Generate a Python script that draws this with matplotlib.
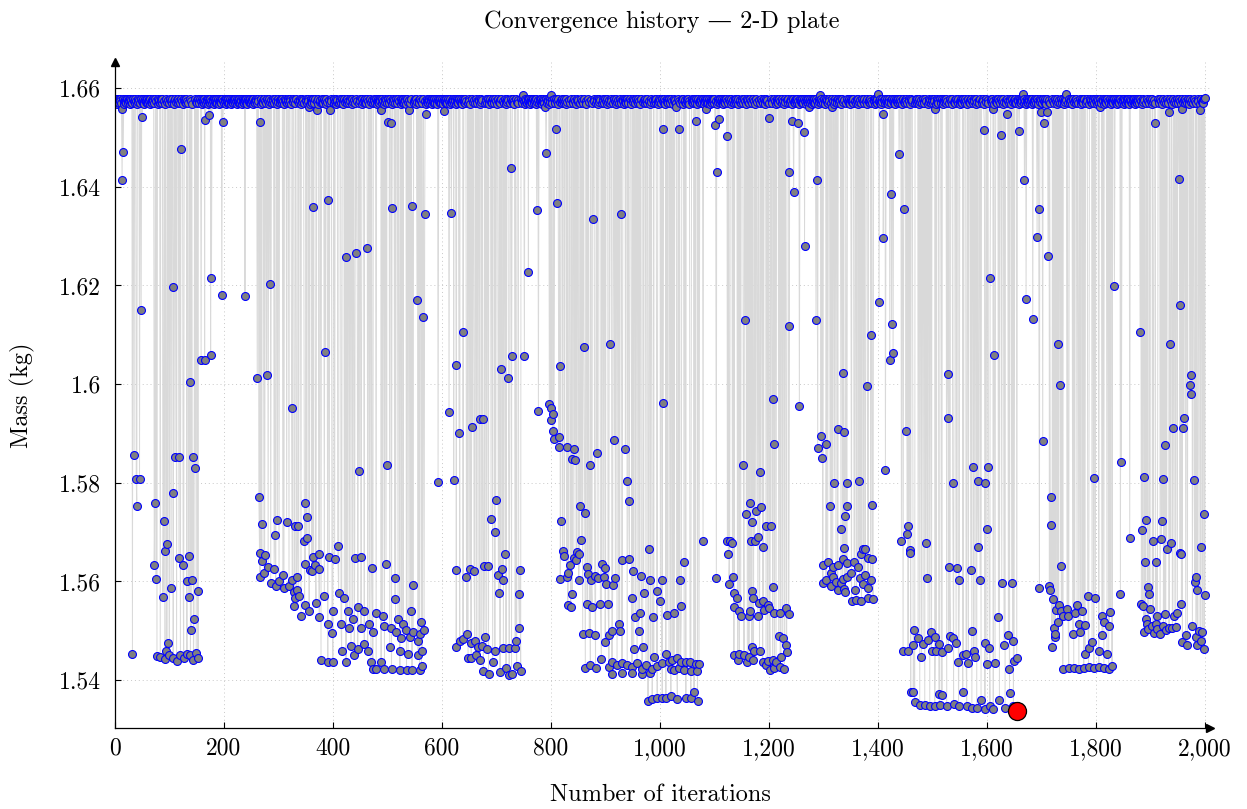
import numpy as np
import matplotlib
matplotlib.use("Agg")
import matplotlib.pyplot as plt

plt.rcParams['font.family'] = ['cmr10', 'DejaVu Serif']
plt.rcParams['axes.formatter.use_mathtext'] = True

# Low (non-top) designs as (iteration, mass in kg)
seg_a = [(12, 1.6557), (50, 1.6542), (15, 1.6470), (13, 1.6414), (122, 1.6476), (106, 1.6197), (48, 1.6151),
         (158, 1.6049), (138, 1.6005), (35, 1.5857), (39, 1.5808), (45, 1.5808), (40, 1.5752), (73, 1.5760),
         (89, 1.5723), (95, 1.5676), (91, 1.5662), (72, 1.5633), (75, 1.5605), (88, 1.5568), (103, 1.5587),
         (110, 1.5852), (117, 1.5852), (106.4, 1.5780), (143, 1.5852), (147, 1.5830), (117.4, 1.5647),
         (125, 1.5634), (135, 1.5651), (131.5, 1.5600), (142, 1.5602), (136, 1.5568), (152, 1.5581),
         (145, 1.5523), (140, 1.5501), (32, 1.5452), (97, 1.5475), (77, 1.5448), (83, 1.5446), (91.4, 1.5443),
         (94, 1.5460), (100, 1.5450), (106.8, 1.5444), (113, 1.5439), (120, 1.5450), (126, 1.5445),
         (132, 1.5454), (138.4, 1.5450), (144, 1.5441), (149, 1.5456), (152.4, 1.5444)]

seg_b = [(172.5, 1.6546), (166, 1.6536), (198, 1.6531), (265.5, 1.6531), (177, 1.6215), (196, 1.6181),
         (238.5, 1.6178), (284, 1.6204), (175.5, 1.6060), (164.5, 1.6048), (261, 1.6012), (278, 1.6018),
         (324, 1.5951), (264, 1.5771), (269, 1.5716), (298, 1.5724), (315, 1.5720), (293.6, 1.5695),
         (329.7, 1.5713), (265.2, 1.5657), (274.6, 1.5654), (269.4, 1.5641), (281, 1.5630), (292, 1.5626),
         (308, 1.5613), (266, 1.5609), (273.4, 1.5617), (285.7, 1.5596), (295, 1.5591), (301, 1.5600),
         (310, 1.5587), (319.3, 1.5591), (325.4, 1.5604), (329, 1.5579), (330, 1.5566), (328.5, 1.5551)]

seg_c = [(356.6, 1.6561), (370, 1.6555), (395, 1.6555), (488, 1.6555), (500.3, 1.6531), (364, 1.6360),
         (391.4, 1.6374), (424.5, 1.6257), (442, 1.6265), (463, 1.6276), (386, 1.6066), (448.3, 1.5823),
         (498.5, 1.5836), (349.2, 1.5760), (351.7, 1.5731), (335.2, 1.5713), (347.4, 1.5683), (352, 1.5688),
         (408.6, 1.5671), (373.7, 1.5656), (393.3, 1.5650), (403, 1.5645), (439.8, 1.5647), (452, 1.5650),
         (471.6, 1.5628), (497.3, 1.5636), (349.5, 1.5636), (356.9, 1.5623), (367.6, 1.5634), (363.6, 1.5650),
         (361.5, 1.5621), (374, 1.5626), (333.3, 1.5609), (333.6, 1.5583), (337, 1.5570), (347.8, 1.5553),
         (356.3, 1.5540), (368.8, 1.5557), (384.1, 1.5570), (399.4, 1.5540), (410.4, 1.5576), (420.8, 1.5566),
         (426.9, 1.5540), (436.1, 1.5523), (445.9, 1.5549), (457.2, 1.5540), (466.7, 1.5514), (478.9, 1.5536),
         (491.1, 1.5531), (341.3, 1.5531), (374.9, 1.5527), (390.2, 1.5514), (414.7, 1.5514), (430, 1.5506),
         (451.4, 1.5506), (472.8, 1.5497), (494.2, 1.5510), (398.2, 1.5495), (415.9, 1.5460), (423.9, 1.5437),
         (433, 1.5470), (445.3, 1.5463), (457.5, 1.5473), (463.6, 1.5459), (439.1, 1.5450), (378, 1.5441),
         (390.5, 1.5437), (399.7, 1.5437), (469.7, 1.5437), (473.1, 1.5422), (479.2, 1.5422), (488.3, 1.5437),
         (494.5, 1.5422)]

seg_d = [(538.9, 1.6555), (571, 1.6548), (507, 1.6530), (604, 1.6553), (508.3, 1.6358), (545.6, 1.6361),
         (568.3, 1.6345), (617.2, 1.6347), (554.2, 1.6170), (565.2, 1.6137), (639.2, 1.6106), (625.8, 1.6039),
         (612.9, 1.5943), (631.3, 1.5900), (655.8, 1.5913), (669.2, 1.5930), (592.8, 1.5802), (621.5, 1.5806),
         (626.4, 1.5623), (644.8, 1.5609), (650.9, 1.5626), (658.8, 1.5621), (514.5, 1.5607), (546.9, 1.5593),
         (513.2, 1.5564), (542.6, 1.5540), (519.4, 1.5524), (528.5, 1.5514), (507.1, 1.5506), (534.6, 1.5501),
         (546.6, 1.5497), (559.1, 1.5493), (562.2, 1.5518), (567.1, 1.5501), (514.8, 1.5497), (525.5, 1.5486),
         (540.8, 1.5488), (556, 1.5479), (504.1, 1.5467), (522.4, 1.5459), (537.7, 1.5454), (564, 1.5459),
         (556.3, 1.5450), (507.4, 1.5422), (522.7, 1.5421), (534.9, 1.5421), (545, 1.5421), (558.8, 1.5421),
         (562.5, 1.5429), (626.1, 1.5467), (632.5, 1.5480), (638.6, 1.5484), (646, 1.5493), (652.7, 1.5476),
         (660, 1.5480), (666.2, 1.5467), (663.1, 1.5450), (653.9, 1.5444), (647.8, 1.5444), (669.5, 1.5441)]

seg_e = [(749.3, 1.6587), (789, 1.6561), (800, 1.6587), (809.3, 1.6518), (790.9, 1.6469), (726.7, 1.6439),
         (810.5, 1.6367), (773.8, 1.6353), (758.5, 1.6227), (727.9, 1.6057), (751.2, 1.6057), (708.3, 1.6031),
         (721.8, 1.6012), (816.6, 1.6036), (674.7, 1.5930), (776.9, 1.5945), (797, 1.5960), (799.5, 1.5952),
         (804.4, 1.5939), (800.1, 1.5928), (803.2, 1.5905), (815.4, 1.5893), (805.6, 1.5888), (814.2, 1.5873),
         (828.8, 1.5872), (838, 1.5849), (698.6, 1.5766), (690, 1.5727), (697.3, 1.5700), (715.7, 1.5656),
         (677.1, 1.5632), (685.1, 1.5632), (703.4, 1.5613), (709.6, 1.5626), (711.4, 1.5604), (743.2, 1.5623),
         (703.7, 1.5576), (740.8, 1.5574), (817.8, 1.5722), (821.5, 1.5662), (824.6, 1.5651), (817, 1.5606),
         (828.5, 1.5609), (835, 1.5634), (831.9, 1.5617), (830.7, 1.5553), (836.2, 1.5549), (742, 1.5506),
         (679, 1.5488), (672.9, 1.5470), (682, 1.5463), (697, 1.5460), (712.6, 1.5465), (723.6, 1.5465),
         (734, 1.5465), (735.9, 1.5479), (693, 1.5437), (706.5, 1.5416), (717.5, 1.5424), (727.6, 1.5413),
         (737.1, 1.5428), (744.4, 1.5419), (675.9, 1.5419), (685.4, 1.5413), (723.3, 1.5411)]

seg_f = [(1005, 1.6518), (877.1, 1.6334), (928.5, 1.6344), (860.6, 1.6075), (907.7, 1.6081), (1005.3, 1.5962),
         (916.3, 1.5887), (936.5, 1.5868), (884.5, 1.5860), (841.7, 1.5868), (843.5, 1.5846), (871, 1.5836),
         (939.5, 1.5804), (942.6, 1.5763), (853.9, 1.5754), (861.8, 1.5739), (855.7, 1.5684), (847.8, 1.5660),
         (852, 1.5656), (841.9, 1.5647), (846, 1.5643), (979.3, 1.5666), (930.4, 1.5643), (943.8, 1.5646),
         (950.5, 1.5621), (965.8, 1.5612), (982.4, 1.5603), (1003.8, 1.5602), (866.1, 1.5630), (868, 1.5615),
         (893.7, 1.5636), (899.8, 1.5628), (918.1, 1.5607), (913.2, 1.5593), (896.7, 1.5609), (886.3, 1.5607),
         (874, 1.5603), (850.8, 1.5604), (880.2, 1.5612), (900.1, 1.5595), (994.6, 1.5580), (1000.7, 1.5561),
         (838.6, 1.5574), (948.7, 1.5567), (970.1, 1.5576), (987.2, 1.5527), (866.4, 1.5554), (875.3, 1.5548),
         (890.6, 1.5554), (904.7, 1.5554), (954.8, 1.5527), (962.8, 1.5537), (961, 1.5499), (968.3, 1.5467),
         (858.2, 1.5494), (870.4, 1.5496), (881.4, 1.5492), (905.9, 1.5492), (912, 1.5499), (926.1, 1.5499),
         (924.2, 1.5514), (899.5, 1.5478), (951.8, 1.5463), (988.5, 1.5446), (863, 1.5424), (872.2, 1.5430),
         (881.7, 1.5424), (892.4, 1.5443), (906.2, 1.5426), (912.3, 1.5437), (921.2, 1.5430), (930.7, 1.5435),
         (939.8, 1.5430), (948.4, 1.5426), (957.9, 1.5435), (967.3, 1.5422), (974.4, 1.5430), (985.4, 1.5422),
         (994.3, 1.5428), (1003.5, 1.5435), (911.7, 1.5413), (930.1, 1.5415), (949, 1.5415), (966.7, 1.5413),
         (982.1, 1.5415), (978, 1.5358), (985.7, 1.5362), (994.9, 1.5364), (1004.1, 1.5364)]

seg_g = [(1034.9, 1.6518), (1065.5, 1.6534), (1101, 1.6525), (1108.3, 1.6538), (1122.4, 1.6504), (1083.9, 1.6557),
         (1030, 1.6561), (1104, 1.6431), (1156.7, 1.6130), (1153, 1.5836), (1164.6, 1.5760), (1158.5, 1.5736),
         (1169.5, 1.5720), (1173.8, 1.5682), (1167.7, 1.5682), (1079, 1.5683), (1123.6, 1.5682), (1127.9, 1.5682),
         (1132.8, 1.5677), (1125.5, 1.5656), (1044.1, 1.5639), (1036.8, 1.5603), (1103.4, 1.5607), (1133.1, 1.5610),
         (1126.7, 1.5594), (1135.9, 1.5576), (1142, 1.5566), (1136.2, 1.5549), (1145, 1.5540), (1148.1, 1.5531),
         (1168, 1.5580), (1171.3, 1.5566), (1165.2, 1.5540), (1163.4, 1.5531), (1013.5, 1.5533), (1025.8, 1.5536),
         (1039.2, 1.5550), (1168.3, 1.5467), (1171.6, 1.5460), (1016.6, 1.5437), (1022.7, 1.5441), (1030.6, 1.5444),
         (1038, 1.5437), (1047.2, 1.5437), (1055.1, 1.5437), (1065.2, 1.5433), (1071.6, 1.5433), (1019.6, 1.5422),
         (1034.6, 1.5424), (1044.4, 1.5420), (1056.3, 1.5418), (1068.6, 1.5418), (1010.5, 1.5454), (1025.5, 1.5420),
         (1020, 1.5367), (1031.9, 1.5361), (1047.5, 1.5363), (1062.5, 1.5376), (1068.9, 1.5358), (1010.8, 1.5363),
         (1056.6, 1.5363), (1135.6, 1.5450), (1145.3, 1.5454), (1154.2, 1.5450), (1163.1, 1.5446), (1171, 1.5441),
         (1142.3, 1.5441), (1160.3, 1.5437)]

seg_h = [(1199.4, 1.6540), (1242.3, 1.6534), (1252.7, 1.6530), (1264.9, 1.6512), (1274, 1.6561), (1315.7, 1.6561),
         (1294.3, 1.6587), (1236.1, 1.6431), (1245.3, 1.6390), (1287.5, 1.6414), (1265.2, 1.6280), (1237.4, 1.6117),
         (1286.3, 1.6130), (1336.5, 1.6022), (1208, 1.5970), (1255.7, 1.5956), (1209.8, 1.5879), (1183.5, 1.5821),
         (1326, 1.5909), (1338.3, 1.5902), (1295.5, 1.5894), (1304.7, 1.5879), (1289.4, 1.5870), (1296.7, 1.5851),
         (1320, 1.5799), (1342.6, 1.5799), (1185.4, 1.5750), (1312, 1.5753), (1342.3, 1.5754), (1338.6, 1.5733),
         (1332.2, 1.5707), (1176.2, 1.5743), (1194.6, 1.5712), (1203.7, 1.5712), (1179.3, 1.5690), (1188.4, 1.5670),
         (1338, 1.5667), (1206.8, 1.5589), (1298.5, 1.5634), (1307.7, 1.5639), (1316.9, 1.5630), (1326.3, 1.5634),
         (1336.5, 1.5645), (1342.6, 1.5637), (1313.8, 1.5617), (1298.8, 1.5596), (1304.7, 1.5602), (1314.1, 1.5591),
         (1323, 1.5598), (1332.2, 1.5596), (1338.3, 1.5585), (1342.9, 1.5610), (1326, 1.5583), (1316.9, 1.5609),
         (1335.2, 1.5605), (1340.1, 1.5579), (1182.3, 1.5557), (1189.7, 1.5560), (1197.6, 1.5553), (1190, 1.5542),
         (1200.7, 1.5546), (1209.8, 1.5536), (1220.2, 1.5536), (1231.3, 1.5546), (1236.1, 1.5534), (1179.6, 1.5531),
         (1217.8, 1.5490), (1225.1, 1.5486), (1231.6, 1.5471), (1232.5, 1.5457), (1182.6, 1.5459), (1188.4, 1.5437),
         (1197.9, 1.5439), (1201.9, 1.5420), (1206.8, 1.5441), (1212.9, 1.5437), (1220.5, 1.5427), (1228.2, 1.5422),
         (1210.1, 1.5424), (1194.6, 1.5431), (1222.1, 1.5446)]

seg_i = [(1409.3, 1.6547), (1504.1, 1.6557), (1400.2, 1.6589), (1438.7, 1.6467), (1424.6, 1.6385), (1447.2, 1.6355),
         (1409.6, 1.6297), (1402, 1.6167), (1386.7, 1.6100), (1424.9, 1.6122), (1427.7, 1.6063), (1421.6, 1.6049),
         (1380.6, 1.5997), (1451.5, 1.5906), (1413.6, 1.5825), (1364.7, 1.5803), (1389.8, 1.5756), (1455.2, 1.5713),
         (1453.4, 1.5696), (1443, 1.5683), (1458.3, 1.5664), (1459.5, 1.5658), (1487.6, 1.5677), (1490.1, 1.5607),
         (1372.6, 1.5666), (1376.9, 1.5666), (1368.3, 1.5656), (1381.8, 1.5647), (1389.8, 1.5645), (1356.1, 1.5639),
         (1351.2, 1.5617), (1363.5, 1.5630), (1366.5, 1.5607), (1375.7, 1.5613), (1386.7, 1.5604), (1372.9, 1.5595),
         (1357.3, 1.5583), (1382.1, 1.5587), (1391, 1.5564), (1381.5, 1.5566), (1369.6, 1.5561), (1360.4, 1.5562),
         (1351.5, 1.5560), (1466.2, 1.5501), (1473.6, 1.5486), (1482.7, 1.5473), (1491.9, 1.5481), (1498, 1.5497),
         (1505.4, 1.5488), (1511.5, 1.5473), (1446, 1.5459), (1455.2, 1.5459), (1464.4, 1.5471), (1479.7, 1.5446),
         (1498.3, 1.5460), (1507.2, 1.5460), (1464.7, 1.5376), (1460.1, 1.5376), (1467.4, 1.5356), (1476.6, 1.5350),
         (1485.8, 1.5350), (1495, 1.5348), (1504.1, 1.5348), (1511.8, 1.5371), (1513.3, 1.5350)]

seg_j = [(1611.8, 1.6557), (1636.2, 1.6548), (1595.3, 1.6516), (1625.2, 1.6506), (1658.9, 1.6514), (1665.6, 1.6589),
         (1668.7, 1.6413), (1605.7, 1.6216), (1671.7, 1.6173), (1684, 1.6132), (1613.6, 1.6059), (1528, 1.6021),
         (1529.2, 1.5932), (1575.1, 1.5832), (1602.6, 1.5833), (1537.1, 1.5799), (1583, 1.5804), (1596.5, 1.5800),
         (1599.5, 1.5707), (1584.2, 1.5670), (1531, 1.5630), (1544.5, 1.5627), (1549.4, 1.5604), (1570.2, 1.5623),
         (1587.3, 1.5604), (1627.1, 1.5597), (1645.4, 1.5597), (1621, 1.5527), (1572, 1.5500), (1639.3, 1.5491),
         (1647.2, 1.5480), (1631.3, 1.5471), (1654.6, 1.5444), (1649.7, 1.5439), (1641.1, 1.5422), (1517, 1.5457),
         (1532.3, 1.5489), (1538.4, 1.5485), (1543.3, 1.5476), (1529.2, 1.5466), (1547.5, 1.5437), (1556.7, 1.5450),
         (1565.9, 1.5435), (1575.4, 1.5459), (1578.1, 1.5446), (1596.8, 1.5476), (1604.4, 1.5466), (1614.8, 1.5435),
         (1599.8, 1.5433), (1561.6, 1.5452), (1517.3, 1.5369), (1526.1, 1.5347), (1538.7, 1.5351), (1547.8, 1.5347),
         (1555.5, 1.5375), (1562.8, 1.5347), (1572.3, 1.5344), (1581.2, 1.5344), (1589.1, 1.5359), (1596.2, 1.5342),
         (1605.4, 1.5347), (1611.5, 1.5342), (1622.8, 1.5359), (1633.2, 1.5344), (1641.4, 1.5373), (1648.5, 1.5347)]

seg_k = [(1699.8, 1.6551), (1710.2, 1.6551), (1704.1, 1.6529), (1745.7, 1.6589), (1808.1, 1.6561), (1694.9, 1.6355),
         (1691.9, 1.6298), (1712.1, 1.6259), (1833.8, 1.6198), (1730.4, 1.6082), (1734.7, 1.5998), (1702.3, 1.5885),
         (1795.9, 1.5809), (1846.6, 1.5842), (1717, 1.5772), (1718.2, 1.5714), (1735, 1.5631), (1696.2, 1.5587),
         (1714.5, 1.5590), (1716.3, 1.5583), (1844.8, 1.5574), (1720.6, 1.5564), (1784.9, 1.5570), (1798.9, 1.5566),
         (1731.6, 1.5553), (1736.5, 1.5540), (1727.4, 1.5542), (1746.9, 1.5544), (1748.8, 1.5531), (1765.3, 1.5553),
         (1774.5, 1.5540), (1761, 1.5536), (1730.1, 1.5518), (1739.3, 1.5531), (1722.5, 1.5506), (1725.5, 1.5494),
         (1724.3, 1.5488), (1719.4, 1.5468), (1768.3, 1.5514), (1779.3, 1.5512), (1771.4, 1.5497), (1757.3, 1.5493),
         (1811.2, 1.5531), (1814.2, 1.5517), (1826.5, 1.5538), (1824.6, 1.5510), (1811.5, 1.5491), (1792.8, 1.5478),
         (1786.7, 1.5466), (1779.6, 1.5454), (1805, 1.5459), (1820.3, 1.5452), (1739, 1.5422), (1750, 1.5424),
         (1759.2, 1.5424), (1768.6, 1.5422), (1777.5, 1.5424), (1786.4, 1.5427), (1795.9, 1.5424), (1805.3, 1.5427),
         (1814.5, 1.5424), (1823.4, 1.5422), (1829.5, 1.5428)]

seg_l = [(1908.4, 1.6529), (1934.1, 1.6551), (1958.5, 1.6557), (1991, 1.6555), (2000, 1.6580), (1952.4, 1.6415),
         (1953.7, 1.6161), (1880.9, 1.6106), (1935.9, 1.6082), (1973.8, 1.6018), (1972, 1.5999), (1974.1, 1.5980),
         (1961.6, 1.5932), (1940.8, 1.5912), (1960.4, 1.5912), (1926.1, 1.5876), (1888.2, 1.5812), (1923.7, 1.5808),
         (1980, 1.5805), (1998.3, 1.5737), (1861.9, 1.5688), (1892.5, 1.5724), (1885.1, 1.5705), (1921.8, 1.5722),
         (1905.3, 1.5683), (1920, 1.5686), (1937.1, 1.5679), (1929.8, 1.5666), (1954.3, 1.5658), (1955.5, 1.5656),
         (1992.2, 1.5669), (1890, 1.5640), (1910.8, 1.5639), (1983, 1.5609), (1981.2, 1.5598), (1984.9, 1.5583),
         (2000, 1.5573), (1896.2, 1.5589), (1897.4, 1.5574), (1883.3, 1.5555), (1885.4, 1.5551), (1899.2, 1.5544),
         (1956.7, 1.5554), (1949.4, 1.5537), (1943.3, 1.5531), (1926.4, 1.5534), (1912.7, 1.5530), (1891.3, 1.5524),
         (1894.3, 1.5514), (1903.5, 1.5510), (1912.4, 1.5503), (1923.7, 1.5510), (1934.1, 1.5506), (1946.3, 1.5508),
         (1905.6, 1.5495), (1917.6, 1.5493), (1888.2, 1.5497), (1895.5, 1.5503), (1909.6, 1.5514), (1928, 1.5501),
         (1940.2, 1.5506), (1976.9, 1.5510), (1989.1, 1.5499), (1983.3, 1.5488), (1995.3, 1.5497), (1964.7, 1.5491),
         (1958.5, 1.5478), (1967.7, 1.5471), (1986.1, 1.5471), (1998.3, 1.5463), (1992.2, 1.5480)]

# spread of the dense band of feasible designs near the top
top_band = [1.6574, 1.6570, 1.6578, 1.6573, 1.6568, 1.6577, 1.6572, 1.6575, 1.6569, 1.6579]
n_iter = 2000

best_iter = 1655
best_mass = 1.5338

x_ticks = [0, 200, 400, 600, 800, 1000, 1200, 1400, 1600, 1800, 2000]
x_tick_labels = ['0', '200', '400', '600', '800', '1,000', '1,200', '1,400', '1,600', '1,800', '2,000']
y_ticks = [1.54, 1.56, 1.58, 1.60, 1.62, 1.64, 1.66]
y_tick_labels = ['1.54', '1.56', '1.58', '1.6', '1.62', '1.64', '1.66']

# assemble history: low designs + top-band designs at remaining iterations
lows = np.array(seg_a + seg_b + seg_c + seg_d + seg_e + seg_f + seg_g + seg_h + seg_i + seg_j + seg_k + seg_l)
low_x, low_y = lows[:, 0], lows[:, 1]
its = np.arange(0, n_iter + 1)
taken = np.array([np.min(np.abs(low_x - i)) < 0.5 for i in its])
top_x = its[~taken].astype(float)
top_y = np.array([top_band[k % len(top_band)] for k in range(len(top_x))])

hx = np.concatenate([low_x, top_x])
hy = np.concatenate([low_y, top_y])
order = np.argsort(hx, kind='stable')
hx, hy = hx[order], hy[order]

fig = plt.figure(figsize=(12.47, 8.09), dpi=100)
ax = fig.add_axes([115 / 1247, 1 - 728 / 809, (1210 - 115) / 1247, (728 - 62) / 809])

ax.plot(hx, hy, color='#d9d9d9', linewidth=0.7, zorder=1)
ax.plot(hx, hy, linestyle='none', marker='o', markersize=5.7, markerfacecolor='#808080',
        markeredgecolor='#0000ff', markeredgewidth=0.8, zorder=2)
ax.plot([best_iter], [best_mass], linestyle='none', marker='o', markersize=13, markerfacecolor='#ff0000',
        markeredgecolor='black', markeredgewidth=0.9, zorder=3)

ax.set_xlim(0, 2009.2)
ax.set_ylim(1.5303, 1.6653)
ax.set_xticks(x_ticks)
ax.set_xticklabels(x_tick_labels)
ax.set_yticks(y_ticks)
ax.set_yticklabels(y_tick_labels)
ax.tick_params(axis='both', direction='in', length=4, width=0.8, labelsize=17)
ax.tick_params(axis='x', pad=7)
ax.tick_params(axis='y', pad=10)

ax.grid(True, linestyle=(0, (1, 3)), color='#c8c8c8', linewidth=0.7)
ax.set_axisbelow(True)
for s in ['top', 'right']:
    ax.spines[s].set_visible(False)
for s in ['left', 'bottom']:
    ax.spines[s].set_linewidth(0.9)

# axis arrow heads
ax.plot(1, 0, marker='>', color='black', markersize=6, transform=ax.transAxes, clip_on=False)
ax.plot(0, 1, marker='^', color='black', markersize=6, transform=ax.transAxes, clip_on=False)

fig.text(662 / 1247, 1 - 22 / 809, 'Convergence history \u2014 2-D plate', ha='center', va='center', fontsize=17.5)
fig.text(660 / 1247, 1 - 795 / 809, 'Number of iterations', ha='center', va='center', fontsize=17.5)
fig.text(22 / 1247, 1 - 395 / 809, 'Mass (kg)', ha='center', va='center', rotation=90, fontsize=17.5)

fig.savefig('out.png', dpi=100)
